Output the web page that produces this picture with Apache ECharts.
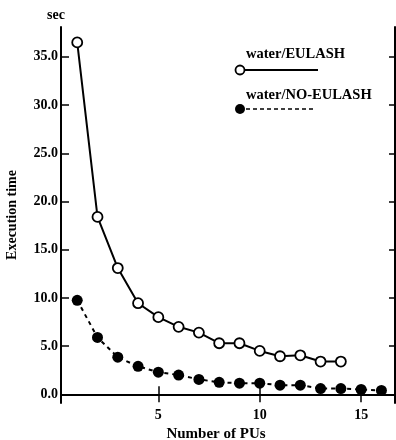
<!DOCTYPE html>
<html>
<head>
<meta charset="utf-8">
<script src="https://cdn.jsdelivr.net/npm/echarts@6/dist/echarts.min.js"></script>
<style>html,body{margin:0;padding:0;background:#fff}#c{width:396px;height:440px}</style>
</head>
<body>
<div id="c"></div>
<script>
var pus = [1,2,3,4,5,6,7,8,9,10,11,12,13,14,15,16];
var eulash = [36.5,18.4,13.1,9.45,8.0,7.0,6.4,5.3,5.3,4.5,3.95,4.05,3.4,3.4];
var noEulash = [9.75,5.9,3.85,2.9,2.3,2.0,1.55,1.25,1.15,1.15,0.95,0.95,0.6,0.6,0.5,0.4];
var yTicks = [0,5,10,15,20,25,30,35];
var xTicks = [5,10,15];
var seriesNames = ['water/EULASH','water/NO-EULASH'];

function pairs(xs, ys){ return ys.map(function(v,i){ return [xs[i], v]; }); }

var font = 'Liberation Serif';
var chart = echarts.init(document.getElementById('c'), null, {renderer:'canvas'});
var axisLine = {show:true, lineStyle:{color:'#000', width:2}};
chart.setOption({
  animation:false,
  backgroundColor:'#fff',
  textStyle:{fontFamily:font},
  title:{text:'sec', left:42, top:3, textStyle:{fontFamily:font, fontWeight:'bold', fontSize:14, color:'#000'}},
  grid:{left:61, right:1, top:27, bottom:37, containLabel:false, outerBoundsMode:'none'},
  xAxis:[{
    type:'value', position:'bottom', min:0.2, max:16.67,
    name:'Number of PUs', nameLocation:'middle', nameGap:24,
    nameTextStyle:{fontFamily:font, fontWeight:'bold', fontSize:15, color:'#000', padding:[0,24,0,0]},
    axisLine:axisLine, splitLine:{show:false},
    axisTick:{show:true, inside:true, length:8, customValues:xTicks, lineStyle:{color:'#000', width:1.5}},
    axisLabel:{customValues:xTicks, fontFamily:font, fontWeight:'bold', fontSize:14, color:'#000', margin:5}
  },{
    type:'value', position:'top', min:0.2, max:16.67,
    axisLine:axisLine, splitLine:{show:false},
    axisTick:{show:true, inside:true, length:8, customValues:xTicks, lineStyle:{color:'#000', width:1.5}},
    axisLabel:{show:false}
  }],
  yAxis:[{
    type:'value', position:'left', min:-0.9, max:38.1,
    name:'Execution time', nameLocation:'middle', nameGap:42,
    nameTextStyle:{fontFamily:font, fontWeight:'bold', fontSize:14, color:'#000'},
    axisLine:axisLine, splitLine:{show:false},
    axisTick:{show:true, inside:true, length:8, customValues:yTicks, lineStyle:{color:'#000', width:1.5}},
    axisLabel:{customValues:yTicks, fontFamily:font, fontWeight:'bold', fontSize:14, color:'#000', margin:3,
      formatter:function(v){ return v.toFixed(1); }}
  },{
    type:'value', position:'right', min:-0.9, max:38.1,
    axisLine:axisLine, splitLine:{show:false},
    axisTick:{show:true, inside:true, length:6, customValues:yTicks, lineStyle:{color:'#000', width:1.5}},
    axisLabel:{show:false}
  }],
  series:[{
    name:seriesNames[0], type:'line', data:pairs(pus, eulash),
    symbol:'circle', symbolSize:10,
    itemStyle:{color:'#fff', borderColor:'#000', borderWidth:1.8},
    lineStyle:{color:'#000', width:2}, z:3
  },{
    name:seriesNames[1], type:'line', data:pairs(pus, noEulash),
    symbol:'circle', symbolSize:11,
    itemStyle:{color:'#000', borderColor:'#000', borderWidth:0},
    lineStyle:{color:'#000', width:2, type:[4,4]}, z:3
  }],
  graphic:[
    {type:'text', left:246, top:47, style:{text:seriesNames[0], font:'bold 14.5px "Liberation Serif"', fill:'#000'}},
    {type:'line', shape:{x1:244, y1:70, x2:318, y2:70}, style:{stroke:'#000', lineWidth:1.8}},
    {type:'circle', shape:{cx:240, cy:70, r:4.5}, style:{fill:'#fff', stroke:'#000', lineWidth:1.8}},
    {type:'text', left:246, top:88, style:{text:seriesNames[1], font:'bold 14.5px "Liberation Serif"', fill:'#000'}},
    {type:'line', shape:{x1:246, y1:109, x2:316, y2:109}, style:{stroke:'#000', lineWidth:1.5, lineDash:[4,3]}},
    {type:'circle', shape:{cx:240, cy:109, r:5}, style:{fill:'#000'}}
  ]
});
</script>
</body>
</html>
